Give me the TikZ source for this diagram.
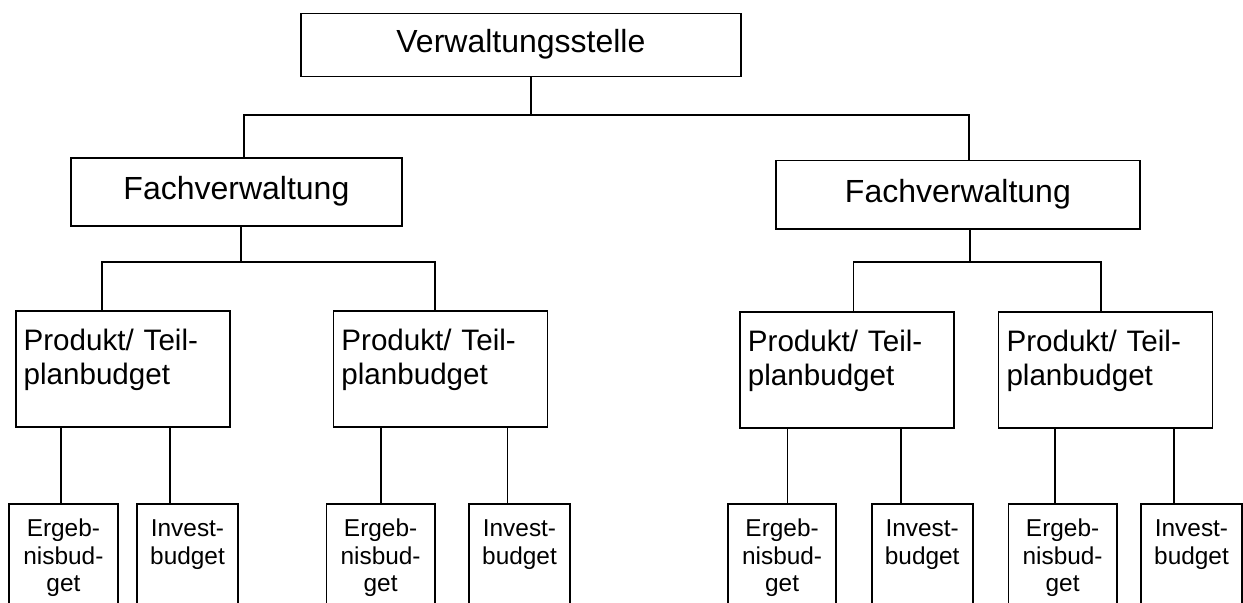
\documentclass[tikz,border=0pt]{standalone}
\usepackage{fontspec}
\setmainfont{Liberation Sans}
\tikzset{
    %Define style for boxes
    unitbox/.style={
           rectangle,
           draw=black, line width=0.9pt,
           anchor=north west,
           inner xsep=0pt, inner ysep=0pt},
    headbox/.style={
           unitbox,
           font=\fontsize{16}{18}\selectfont,
           minimum width=220pt,
           text height=19.5pt, text depth=12pt},
    deptbox/.style={
           unitbox,
           font=\fontsize{16}{18}\selectfont,
           text height=21pt, text depth=13.2pt},
    prodbox/.style={
           unitbox,
           font=\fontsize{14.8}{17}\selectfont,
           inner xsep=4pt,
           text width=99pt, align=left,
           text height=19.65pt, text depth=38.35pt},
    budgbox/.style={
           unitbox,
           font=\fontsize{12.2}{13.7}\selectfont,
           align=center,
           text height=16.5pt, text depth=43.5pt},
    ergbox/.style={budgbox, text width=54.2pt},
    invbox/.style={budgbox, text width=50.6pt},
    % Define connector style
    link/.style={
           line width=0.9pt}
}
\begin{document}
\begin{tikzpicture}[x=0.5pt, y=-0.5pt]
    \useasboundingbox (0,0) rectangle (1243,603);
    \clip (0,0) rectangle (1243,603);
 %nodes
    \node[headbox] (stelle) at (300,12.7) {Verwaltungsstelle};
    \node[deptbox, minimum width=165.5pt] (fachL) at (70,157) {Fachverwaltung};
    \node[deptbox, minimum width=182pt] (fachR) at (775,159.7) {Fachverwaltung};
    \node[prodbox] (prodA) at (14.7,310) {Produkt/ Teil-\\planbudget};
    \node[prodbox] (prodB) at (332.5,310) {Produkt/ Teil-\\planbudget};
    \node[prodbox] (prodC) at (739,311) {Produkt/ Teil-\\planbudget};
    \node[prodbox] (prodD) at (997.6,311) {Produkt/ Teil-\\planbudget};
    \node[ergbox] (ergA) at (8.3,503) {Ergeb-\\nisbud-\\get};
    \node[invbox] (invA) at (136,503) {Invest-\\budget};
    \node[ergbox] (ergB) at (325.5,503) {Ergeb-\\nisbud-\\get};
    \node[invbox] (invB) at (468,503) {Invest-\\budget};
    \node[ergbox] (ergC) at (727,503) {Ergeb-\\nisbud-\\get};
    \node[invbox] (invC) at (870.7,503) {Invest-\\budget};
    \node[ergbox] (ergD) at (1007.5,503) {Ergeb-\\nisbud-\\get};
    \node[invbox] (invD) at (1140,503) {Invest-\\budget};
 %junctions
    \coordinate (hub) at (531,115);
    \coordinate (hubL) at (241,262);
    \coordinate (hubR) at (970,262);
 %edges
    \draw[link] (stelle.south -| hub) -- (hub);
    \draw[link] ([xshift=3.75pt]fachL.north) |- (hub) -| ([xshift=5.5pt]fachR.north);
    \draw[link] (fachL.south -| hubL) -- (hubL);
    \draw[link] ([xshift=-10.35pt]prodA.north) |- (hubL) -| ([xshift=-2.75pt]prodB.north);
    \draw[link] (fachR.south -| hubR) -- (hubR);
    \draw[link] ([xshift=3.25pt]prodC.north) |- (hubR) -| ([xshift=-2.3pt]prodD.north);
    \draw[link] ([xshift=-1.25pt]ergA.north) -- ([xshift=-1.25pt]ergA.north |- prodA.south);
    \draw[link] ([xshift=-8.7pt]invA.north) -- ([xshift=-8.7pt]invA.north |- prodA.south);
    \draw[link] (ergB.north) -- (ergB.north |- prodB.south);
    \draw[link] ([xshift=-6pt]invB.north) -- ([xshift=-6pt]invB.north |- prodB.south);
    \draw[link] ([xshift=2.65pt]ergC.north) -- ([xshift=2.65pt]ergC.north |- prodC.south);
    \draw[link] ([xshift=-10.7pt]invC.north) -- ([xshift=-10.7pt]invC.north |- prodC.south);
    \draw[link] ([xshift=-3.85pt]ergD.north) -- ([xshift=-3.85pt]ergD.north |- prodD.south);
    \draw[link] ([xshift=-8.7pt]invD.north) -- ([xshift=-8.7pt]invD.north |- prodD.south);
\end{tikzpicture}
\end{document}
